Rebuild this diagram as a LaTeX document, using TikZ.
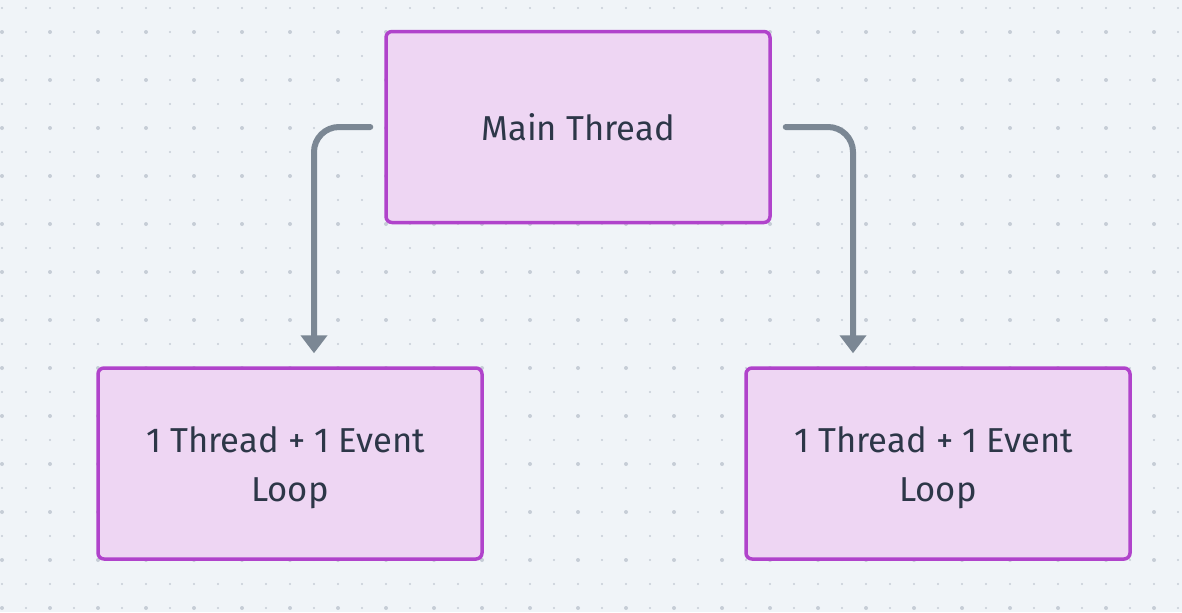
\documentclass[tikz,border=0pt]{standalone}
\usepackage{fontspec}
\setmainfont{Fira Sans}
\usetikzlibrary{arrows.meta,calc}
\definecolor{bg}{HTML}{F0F4F8}
\definecolor{dotc}{HTML}{C6CDD6}
\definecolor{boxfill}{HTML}{EED6F3}
\definecolor{boxdraw}{HTML}{B043CB}
\definecolor{conncol}{HTML}{7B8794}
\definecolor{txt}{HTML}{2D3748}
\begin{document}
\begin{tikzpicture}[x=0.5pt,y=-0.5pt,
  box/.style={draw=boxdraw, fill=boxfill, line width=1.75pt, rounded corners=3pt,
    minimum width=192pt, minimum height=95.5pt, inner sep=0pt, text=txt,
    font=\fontsize{17.3}{24.5}\selectfont, align=center},
  conn/.style={draw=conncol, line width=3pt, rounded corners=12.5pt, line cap=round,
    -{Triangle[width=13pt,length=9pt]}}]
\fill[bg] (0,0) rectangle (1182,612);
\useasboundingbox (0,0) rectangle (1182,612);
\foreach \i in {0,...,49}{
  \foreach \j in {0,...,25}{
    \fill[dotc] (2+24*\i,8+24*\j) circle (0.55pt);
  }
}
\foreach \i in {0,...,24}{
  \foreach \j in {0,...,12}{
    \fill[dotc] (2+48*\i,32+48*\j) circle (1pt);
  }
}
\node[box] (main) at (578,127) {Main Thread};
\node[box] (left) at (290,463.5) {\rule{0pt}{17.5pt}1 Thread + 1 Event\hspace*{0.25em}\\Loop};
\node[box] (right) at (938,463.5) {\rule{0pt}{17.5pt}1 Thread + 1 Event\hspace*{0.25em}\\Loop};
\draw[conn] ([xshift=-7pt]main.west) -| ([xshift=12pt,yshift=6.5pt]left.north);
\draw[conn] ([xshift=7pt]main.east) -| ([xshift=-42.5pt,yshift=6.5pt]right.north);
\end{tikzpicture}
\end{document}
